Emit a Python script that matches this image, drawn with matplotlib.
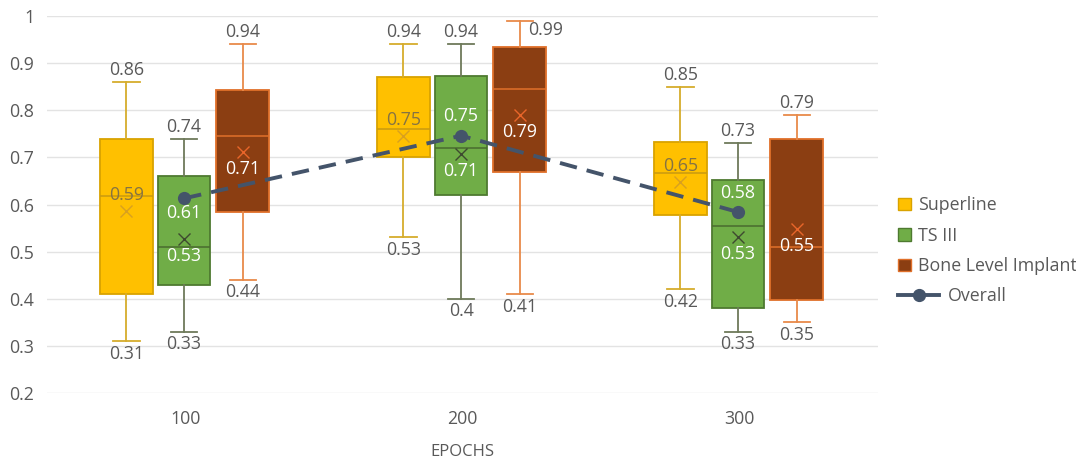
import matplotlib
matplotlib.use("Agg")
import matplotlib.pyplot as plt
from matplotlib.patches import Patch
from matplotlib.lines import Line2D
import numpy as np

plt.rcParams['font.family'] = ['Open Sans', 'DejaVu Sans']

# ---- data ----
epochs = ["100", "200", "300"]
series = ["Superline", "TS III", "Bone Level Implant"]

superline_low = [0.31, 0.53, 0.42]
superline_q1 = [0.41, 0.70, 0.578]
superline_med = [0.619, 0.761, 0.666]
superline_q3 = [0.739, 0.871, 0.733]
superline_high = [0.86, 0.94, 0.85]
superline_mean = [0.587, 0.746, 0.647]

ts3_low = [0.33, 0.40, 0.33]
ts3_q1 = [0.43, 0.62, 0.38]
ts3_med = [0.509, 0.72, 0.554]
ts3_q3 = [0.66, 0.872, 0.652]
ts3_high = [0.74, 0.94, 0.73]
ts3_mean = [0.527, 0.707, 0.530]

bli_low = [0.44, 0.41, 0.35]
bli_q1 = [0.585, 0.67, 0.398]
bli_med = [0.745, 0.846, 0.509]
bli_q3 = [0.843, 0.934, 0.738]
bli_high = [0.94, 0.99, 0.79]
bli_mean = [0.711, 0.789, 0.547]

overall = [0.613, 0.746, 0.584]

yticks = [0.2, 0.3, 0.4, 0.5, 0.6, 0.7, 0.8, 0.9, 1.0]
ytick_labels = ["0.2", "0.3", "0.4", "0.5", "0.6", "0.7", "0.8", "0.9", "1"]

# ---- styles ----
styles = [
    dict(fill="#FFC000", edge="#D9A300", whisk="#D6AC2C", med="#C99A10", mean="#D8A020", lab="#857343"),
    dict(fill="#70AD47", edge="#4E7A30", whisk="#6E7A5A", med="#4A6B2F", mean="#3E4A30", lab="white"),
    dict(fill="#8B3E12", edge="#E0702A", whisk="#E88A4A", med="#E0702A", mean="#E8652A", lab="white"),
]
all_data = [
    (superline_low, superline_q1, superline_med, superline_q3, superline_high, superline_mean),
    (ts3_low, ts3_q1, ts3_med, ts3_q3, ts3_high, ts3_mean),
    (bli_low, bli_q1, bli_med, bli_q3, bli_high, bli_mean),
]
offsets = [-0.213, -0.005, 0.206]
box_w = 0.19
grey = "#595959"
fs = 12.8

fig = plt.figure(figsize=(10.76, 4.62), dpi=100)
ax = fig.add_axes([47/1076, 1-393/462, (878-47)/1076, (393-16)/462])
ax.set_xlim(-0.5, 2.5)
ax.set_ylim(0.2, 1.0)
ax.set_yticks(yticks)
ax.set_yticklabels(ytick_labels)
ax.set_xticks(range(len(epochs)))
ax.set_xticklabels(epochs)
ax.grid(axis='y', color="#E3E3E3", linewidth=1.0, zorder=0)
ax.set_axisbelow(True)
for s in ax.spines.values():
    s.set_visible(False)
ax.tick_params(axis='both', length=0, labelsize=fs, colors=grey)
ax.tick_params(axis='x', pad=12)
ax.tick_params(axis='y', pad=9)
ax.set_xlabel("EPOCHS", fontsize=12, color=grey)
ax.xaxis.set_label_coords(0.5, -(452-393)/377)
ax.xaxis.label.set_va('center')

def fmt(v):
    s = f"{v:.2f}".rstrip('0')
    return s

for si, (st, d) in enumerate(zip(styles, all_data)):
    low, q1, med, q3, high, mean = d
    stats = []
    for i in range(len(epochs)):
        stats.append(dict(whislo=low[i], q1=q1[i], med=med[i], q3=q3[i], whishi=high[i], mean=mean[i], fliers=[]))
    pos = [i + offsets[si] for i in range(len(epochs))]
    ax.bxp(stats, positions=pos, widths=box_w, capwidths=0.094, showmeans=True, patch_artist=True,
           boxprops=dict(facecolor=st["fill"], edgecolor=st["edge"], linewidth=1.3),
           whiskerprops=dict(color=st["whisk"], linewidth=1.3),
           capprops=dict(color=st["whisk"], linewidth=1.3),
           medianprops=dict(color=st["med"], linewidth=1.1),
           meanprops=dict(marker='x', markeredgecolor=st["mean"], markersize=9, markeredgewidth=1.0),
           manage_ticks=False, zorder=3)
    for i in range(len(epochs)):
        x = pos[i]
        # whisker labels
        if high[i] > 0.96:
            ax.annotate(fmt(high[i]), (x, high[i]), xytext=(6, -7), textcoords='offset points',
                        ha='left', va='center', fontsize=fs, color=grey, zorder=6)
        else:
            ax.annotate(fmt(high[i]), (x, high[i]), xytext=(0, 8.5), textcoords='offset points',
                        ha='center', va='center', fontsize=fs, color=grey, zorder=6)
        ax.annotate(fmt(low[i]), (x, low[i]), xytext=(0, -9), textcoords='offset points',
                    ha='center', va='center', fontsize=fs, color=grey, zorder=6)
        # mean labels
        dy = 11.5 if si == 0 else -12.2
        ax.annotate(f"{mean[i]:.2f}", (x, mean[i]), xytext=(0, dy), textcoords='offset points',
                    ha='center', va='center', fontsize=fs, color=st["lab"], zorder=6)

# overall line
ox = [i + offsets[1] for i in range(len(epochs))]
ax.plot(ox, overall, color="#44546A", linewidth=2.8, dashes=(4.5, 2.6), marker='o', markersize=8.5,
        zorder=5, solid_capstyle='butt')
for i, v in enumerate(overall):
    dy = -10.5 if i == 0 else 14
    ax.annotate(f"{v:.2f}", (ox[i], v), xytext=(0, dy), textcoords='offset points',
                ha='center', va='center', fontsize=fs, color="white", zorder=6)

# legends
patch_handles = [Patch(facecolor=st["fill"], edgecolor=st["edge"], linewidth=1.0) for st in styles]
leg1 = fig.legend(patch_handles, series, loc='upper left', bbox_to_anchor=(893/1076, 1-191/462),
                  frameon=False, fontsize=fs, handlelength=0.72, handleheight=0.72, handletextpad=0.4,
                  labelspacing=0.7, borderaxespad=0, borderpad=0.3, labelcolor=grey)
line_handle = Line2D([0], [0], color="#44546A", linewidth=2.8, marker='o', markersize=8.5)
leg2 = fig.legend([line_handle], ["Overall"], loc='upper left', bbox_to_anchor=(893/1076, 1-282/462),
                  frameon=False, fontsize=fs, handlelength=2.3, handletextpad=0.5,
                  borderaxespad=0, borderpad=0.3, labelcolor=grey)

fig.savefig("out.png", dpi=100)
